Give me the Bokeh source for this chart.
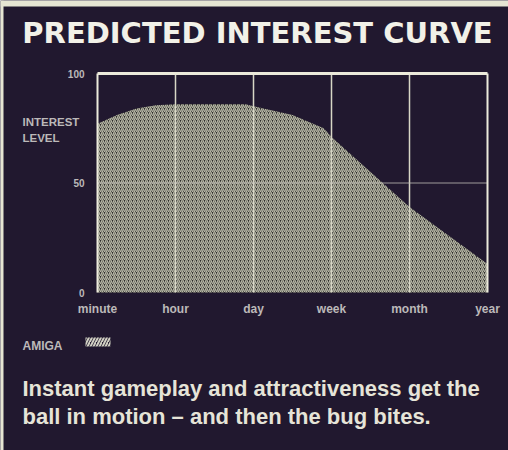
from bokeh.plotting import figure
from bokeh.models import Range1d, Label, BoxAnnotation
from bokeh.embed import file_html
from bokeh.resources import INLINE

# ---- data ----
categories = ["minute", "hour", "day", "week", "month", "year"]
curve_x = [0, 0.25, 0.5, 0.75, 1, 1.5, 1.9, 2, 2.5, 2.9, 3, 3.5, 4, 4.5, 5]
curve_y = [77, 81, 84, 85.5, 86, 86, 86, 85, 81, 75, 71, 55, 39, 26, 13]
y_ticks = [0, 50, 100]
grid_x = [1, 2, 3, 4]
grid_y = [50]

title_text = "PREDICTED INTEREST CURVE"
ylabel_lines = ["INTEREST", "LEVEL"]
legend_text = "AMIGA"
caption_lines = ["Instant gameplay and attractiveness get the",
                 "ball in motion \u2013 and then the bug bites."]

# ---- layout constants (pixels) ----
W, H = 508, 450
X0_PX, PX_PER_CAT = 97, 78          # category 0 position and spacing
Y_TOP_PX, Y_BOT_PX = 73, 292        # value 100 and value 0 positions

BG = "#21182f"
PAPER = "#e6e5d3"
CREAM = "#eceadb"
GREY = "#bcb9b9"

x_first, x_last = 0, len(categories) - 1
y_min, y_max = min(y_ticks), max(y_ticks)
py = (Y_BOT_PX - Y_TOP_PX) / (y_max - y_min)

p = figure(width=W, height=H, output_backend="svg", toolbar_location=None,
           x_range=Range1d(-X0_PX / PX_PER_CAT, (W - X0_PX) / PX_PER_CAT),
           y_range=Range1d(y_min - (H - Y_BOT_PX) / py, y_max + Y_TOP_PX / py),
           min_border=0, min_border_left=0, min_border_right=0,
           min_border_top=0, min_border_bottom=0)
p.axis.visible = False
p.grid.visible = False
p.background_fill_color = BG
p.border_fill_color = BG
p.outline_line_color = None

# paper edge (left and top)
p.add_layout(BoxAnnotation(left=0, right=3, top=0, bottom=H,
                           left_units="canvas", right_units="canvas",
                           top_units="canvas", bottom_units="canvas",
                           fill_color=PAPER, fill_alpha=1, line_color=None))
p.add_layout(BoxAnnotation(left=0, right=W, top=0, bottom=6,
                           left_units="canvas", right_units="canvas",
                           top_units="canvas", bottom_units="canvas",
                           fill_color=PAPER, fill_alpha=1, line_color=None))

# hatched area
area = p.varea(x=curve_x, y1=0, y2=curve_y, fill_color="#2e2d2c",
               hatch_pattern="/", hatch_color="#b8b8a6", hatch_scale=4,
               hatch_weight=1.4)

# grid lines over the area
p.segment(x0=grid_x, y0=[y_min] * len(grid_x), x1=grid_x,
          y1=[y_max] * len(grid_x), line_color="#d8d6c6", line_width=1.5)
p.segment(x0=[x_first] * len(grid_y), y0=grid_y, x1=[x_last] * len(grid_y),
          y1=grid_y, line_color="#c0bdb6", line_width=1, line_alpha=0.8)

# frame lines: left, right, top
p.segment(x0=[x_first, x_last], y0=[y_min, y_min], x1=[x_first, x_last],
          y1=[y_max, y_max], line_color=CREAM, line_width=2)
p.segment(x0=[x_first], y0=[y_max], x1=[x_last], y1=[y_max],
          line_color=CREAM, line_width=3)

# y tick labels
for t in y_ticks:
    p.add_layout(Label(x=x_first, y=t, x_offset=-13, text=str(t),
                       text_align="right", text_baseline="middle",
                       text_font="Liberation Sans", text_font_style="bold",
                       text_font_size="10px", text_color=GREY))

# x category labels
for i, c in enumerate(categories):
    p.add_layout(Label(x=i, y=308, x_units="data", y_units="canvas", text=c,
                       text_align="center", text_baseline="middle",
                       text_font="Liberation Sans", text_font_style="bold",
                       text_font_size="12px", text_color=GREY))

# title
p.add_layout(Label(x=257, y=32, x_units="canvas", y_units="canvas",
                   text=title_text, text_align="center", text_baseline="middle",
                   text_font="DejaVu Sans", text_font_style="bold",
                   text_font_size="29px", text_color="#f2f1e8"))

# y axis title
for k, t in enumerate(ylabel_lines):
    p.add_layout(Label(x=22, y=121 + 16 * k, x_units="canvas", y_units="canvas",
                       text=t, text_align="left", text_baseline="alphabetic",
                       text_font="Liberation Sans", text_font_style="bold",
                       text_font_size="11.5px", text_color=GREY))

# legend
p.add_layout(Label(x=22, y=345, x_units="canvas", y_units="canvas",
                   text=legend_text, text_align="left", text_baseline="alphabetic",
                   text_font="Liberation Sans", text_font_style="bold",
                   text_font_size="12px", text_color=GREY))
p.add_layout(BoxAnnotation(left=85, right=110, top=337, bottom=346,
                           left_units="canvas", right_units="canvas",
                           top_units="canvas", bottom_units="canvas",
                           fill_color=BG, fill_alpha=1, line_color=None,
                           hatch_pattern="/", hatch_color="#d0cfc2",
                           hatch_scale=6, hatch_weight=2))

# caption
for k, t in enumerate(caption_lines):
    p.add_layout(Label(x=22, y=388 + 28 * k, x_units="canvas", y_units="canvas",
                       text=t, text_align="left", text_baseline="alphabetic",
                       text_font="Liberation Sans", text_font_style="bold",
                       text_font_size="22px", text_color="#e6e4d8"))

open("out.html", "w").write(file_html(p, INLINE))
